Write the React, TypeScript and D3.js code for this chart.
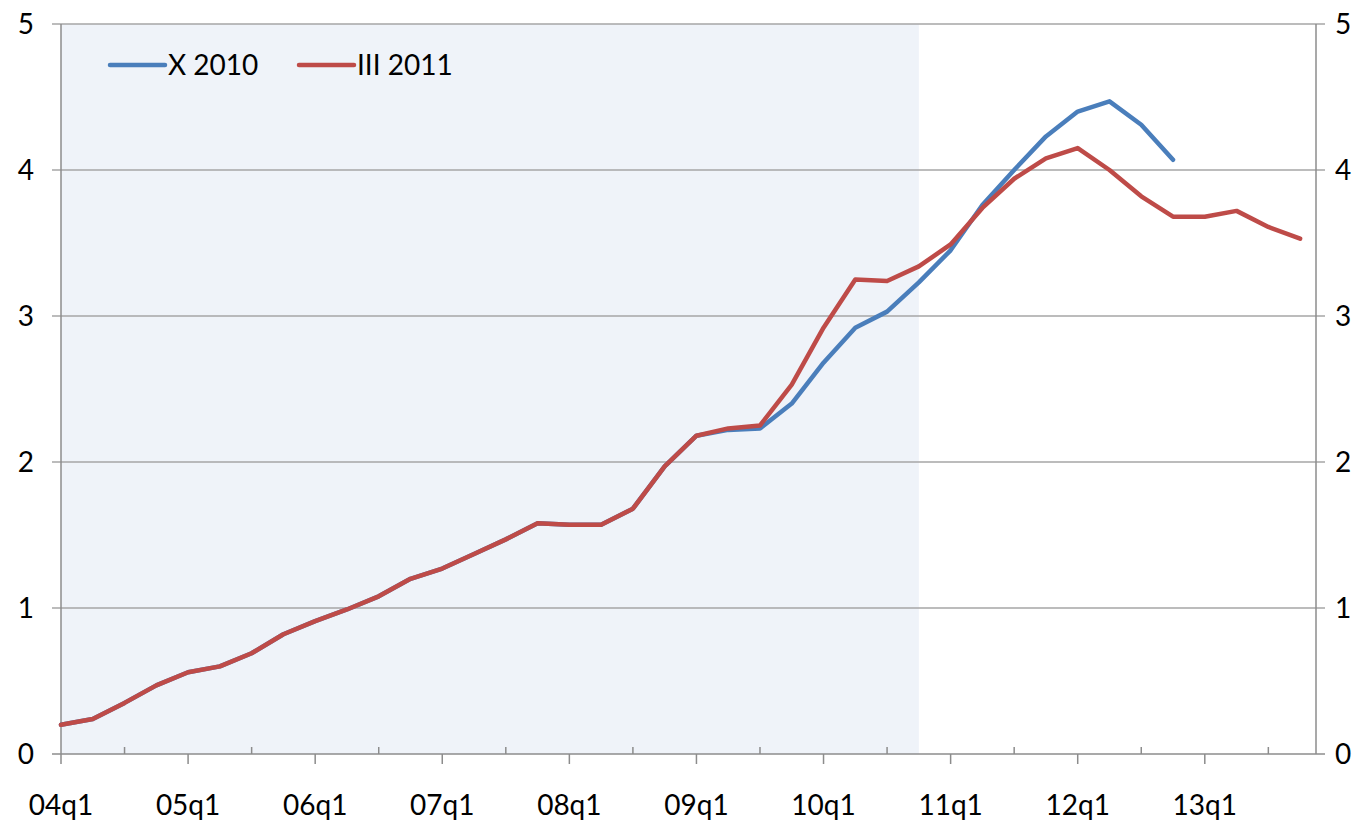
import * as d3 from "d3";
import { useEffect, useRef } from "react";

const QUARTERS: string[] = [];
for (let y = 4; y <= 13; y++) {
  for (let q = 1; q <= 4; q++) QUARTERS.push(`${String(y).padStart(2, "0")}q${q}`);
}

// forecast rounds
const X2010 = [
  0.2, 0.24, 0.35, 0.47, 0.56, 0.6, 0.69, 0.82, 0.91, 0.99, 1.08, 1.2, 1.27, 1.37, 1.47, 1.58, 1.57, 1.57, 1.68,
  1.97, 2.18, 2.22, 2.23, 2.4, 2.68, 2.92, 3.03, 3.23, 3.45, 3.76, 4.0, 4.23, 4.4, 4.47, 4.31, 4.07,
];
const III2011 = [
  0.2, 0.24, 0.35, 0.47, 0.56, 0.6, 0.69, 0.82, 0.91, 0.99, 1.08, 1.2, 1.27, 1.37, 1.47, 1.58, 1.57, 1.57, 1.68,
  1.97, 2.18, 2.23, 2.25, 2.53, 2.92, 3.25, 3.24, 3.34, 3.49, 3.74, 3.94, 4.08, 4.15, 4.0, 3.82, 3.68, 3.68, 3.72,
  3.61, 3.53,
];
const SERIES = [
  { name: "X 2010", values: X2010, color: "#4a7ebb" },
  { name: "III 2011", values: III2011, color: "#be4b48" },
];
const Y_TICKS = [0, 1, 2, 3, 4, 5];
const SHADE_END = "10q4";

const FONT = "Lato, 'Open Sans', sans-serif";

export default function App() {
  const ref = useRef<SVGSVGElement>(null);

  useEffect(() => {
    const svg = d3.select(ref.current);
    svg.selectAll("*").remove();

    const left = 61;
    const right = 1316;
    const top = 24;
    const bottom = 754;

    const x = d3.scaleLinear().domain([0, QUARTERS.length - 0.5]).range([left, right]);
    const y = d3.scaleLinear().domain([0, 5]).range([bottom, top]);
    const gridCol = "#a6a6a6";
    const axisCol = "#8c8c8c";

    // shaded historical period
    const shadeIdx = QUARTERS.indexOf(SHADE_END);
    svg
      .append("rect")
      .attr("x", left)
      .attr("y", top)
      .attr("width", x(shadeIdx) - left)
      .attr("height", bottom - top)
      .attr("fill", "#eff3f9");

    // gridlines + y ticks both sides
    Y_TICKS.filter((t) => t > 0).forEach((t) => {
      svg
        .append("line")
        .attr("x1", left - 9)
        .attr("x2", right + 9)
        .attr("y1", y(t))
        .attr("y2", y(t))
        .attr("stroke", gridCol)
        .attr("stroke-width", 1.5);
    });
    svg
      .append("line")
      .attr("x1", left - 9)
      .attr("x2", left)
      .attr("y1", y(0))
      .attr("y2", y(0))
      .attr("stroke", axisCol)
      .attr("stroke-width", 1.5);
    svg
      .append("line")
      .attr("x1", right)
      .attr("x2", right + 9)
      .attr("y1", y(0))
      .attr("y2", y(0))
      .attr("stroke", axisCol)
      .attr("stroke-width", 1.5);

    Y_TICKS.forEach((t) => {
      svg
        .append("text")
        .attr("x", 34)
        .attr("y", y(t))
        .attr("dy", "0.36em")
        .attr("text-anchor", "end")
        .attr("font-family", FONT)
        .attr("font-size", 28)
        .attr("fill", "#000")
        .text(t);
      svg
        .append("text")
        .attr("x", 1335)
        .attr("y", y(t))
        .attr("dy", "0.36em")
        .attr("text-anchor", "start")
        .attr("font-family", FONT)
        .attr("font-size", 28)
        .attr("fill", "#000")
        .text(t);
    });

    // axes
    const axisLine = (x1: number, y1: number, x2: number, y2: number) =>
      svg
        .append("line")
        .attr("x1", x1)
        .attr("y1", y1)
        .attr("x2", x2)
        .attr("y2", y2)
        .attr("stroke", axisCol)
        .attr("stroke-width", 1.5);
    axisLine(left, top, left, bottom);
    axisLine(right, top, right, bottom);
    axisLine(left, bottom, right, bottom);

    QUARTERS.forEach((q, i) => {
      if (q.endsWith("q1")) {
        axisLine(x(i), bottom, x(i), bottom + 10);
        svg
          .append("text")
          .attr("x", x(i))
          .attr("y", 815)
          .attr("text-anchor", "middle")
          .attr("font-family", FONT)
          .attr("font-size", 28)
          .attr("fill", "#000")
          .text(q);
      } else if (q.endsWith("q3")) {
        axisLine(x(i), bottom - 7, x(i), bottom);
      }
    });

    const line = d3
      .line<number>()
      .x((_, i) => x(i))
      .y((d) => y(d));

    SERIES.forEach((s) => {
      svg
        .append("path")
        .attr("d", line(s.values))
        .attr("fill", "none")
        .attr("stroke", s.color)
        .attr("stroke-width", 4.5)
        .attr("stroke-linejoin", "round")
        .attr("stroke-linecap", "round");
    });

    // legend
    const legendX = [110, 299];
    SERIES.forEach((s, i) => {
      const lx = legendX[i];
      svg
        .append("line")
        .attr("x1", lx)
        .attr("x2", lx + 55)
        .attr("y1", 65)
        .attr("y2", 65)
        .attr("stroke", s.color)
        .attr("stroke-width", 4.5)
        .attr("stroke-linecap", "round");
      svg
        .append("text")
        .attr("x", lx + 58)
        .attr("y", 65)
        .attr("dy", "0.36em")
        .attr("font-family", FONT)
        .attr("font-size", 28)
        .attr("fill", "#000")
        .text(s.name);
    });
  }, []);

  return (
    <svg
      ref={ref}
      width={1366}
      height={822}
      style={{ position: "absolute", left: 0, top: 0, background: "#fff" }}
    />
  );
}
